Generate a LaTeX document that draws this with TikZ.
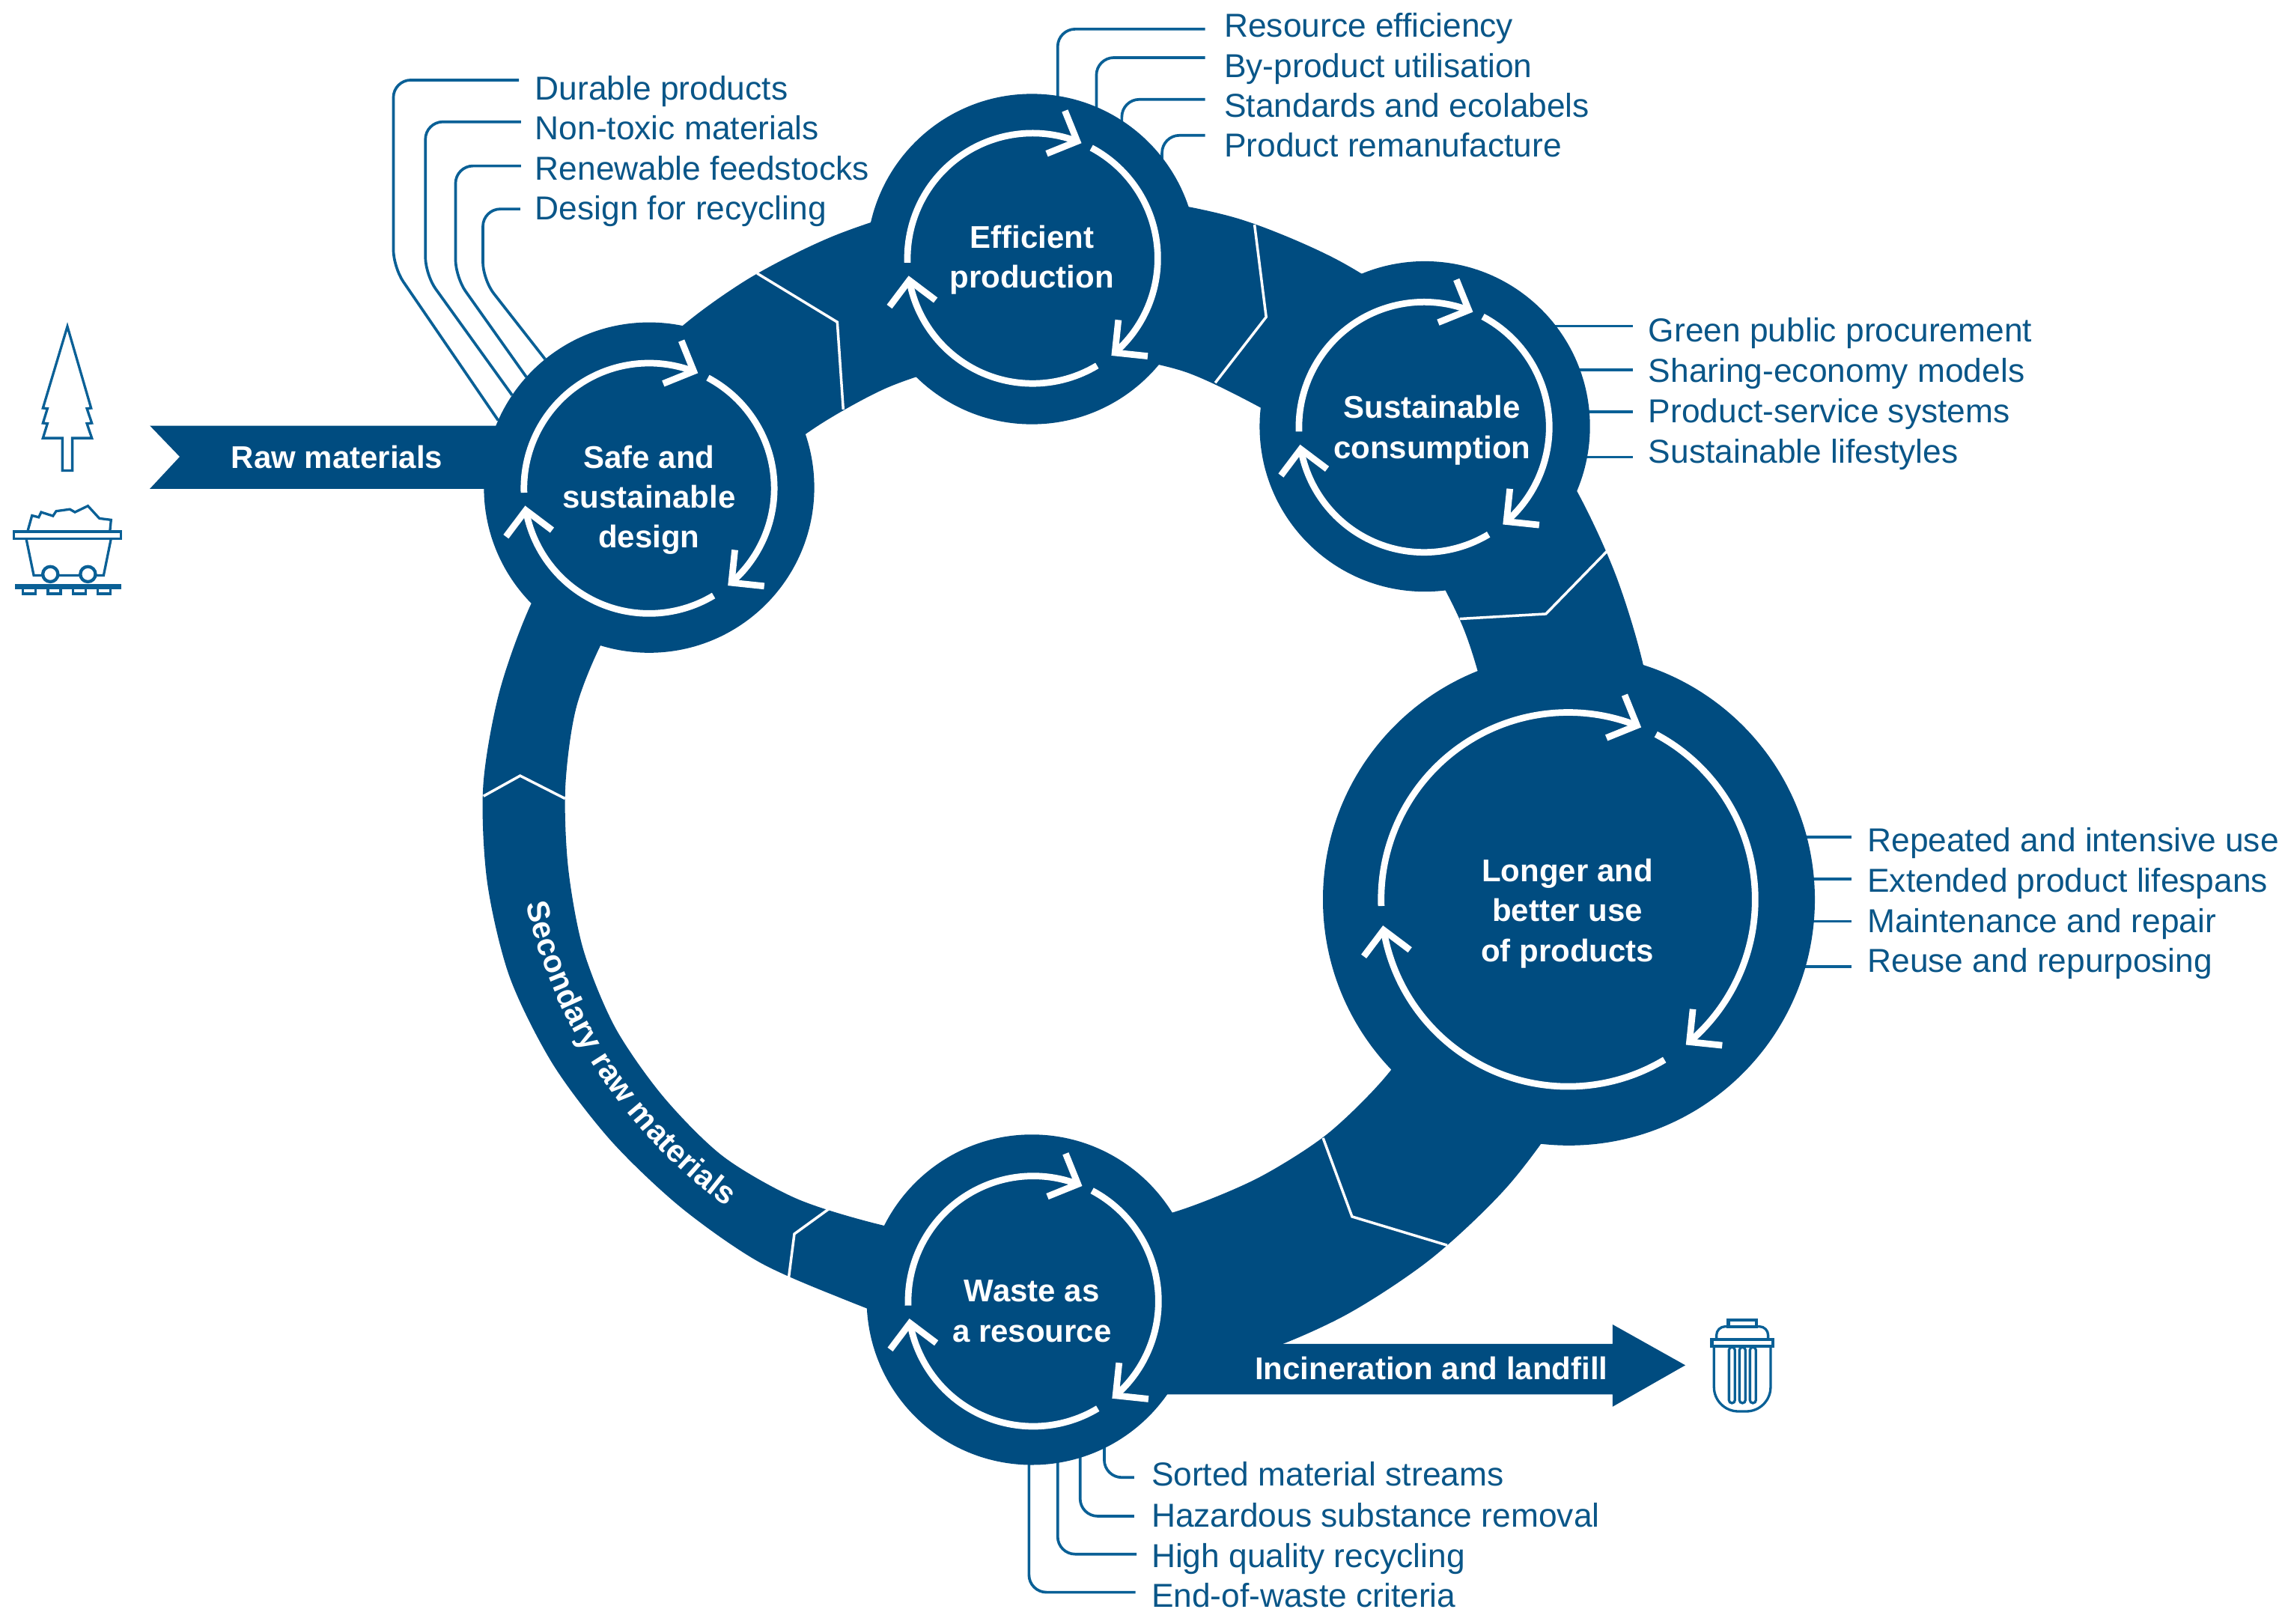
\documentclass[tikz,border=0pt]{standalone}
\usepackage{fontspec}
\setmainfont{Liberation Sans}
\usetikzlibrary{arrows.meta,bending,backgrounds,decorations.text}
\definecolor{deepblue}{HTML}{004C80}
\definecolor{labelblue}{HTML}{0A5688}
\definecolor{leaderblue}{HTML}{0A6096}
\tikzset{
  band/.style={fill=deepblue},
  hub/.style={circle,fill=deepblue,inner sep=0pt,outer sep=0pt},
  title/.style={text=white,align=center,inner sep=0pt,font=\bfseries\fontsize{21.6}{27.5}\selectfont},
  lab/.style={anchor=base west,inner sep=0pt,text=labelblue,font=\fontsize{22.8}{27.5}\selectfont},
  leader/.style={draw=leaderblue,line width=1.9pt,rounded corners=12pt},
  seam/.style={draw=white,line width=1.8pt,line join=miter},
  turn/.style={draw=white,line width=4.5pt,-{Straight Barb[length=16pt,width=32pt,line width=4.5pt,flex=0]}},
  icon/.style={draw=leaderblue,line width=1.7pt,line join=miter,fill=white}
}
\begin{document}
\begin{tikzpicture}[x=1pt,y=-1pt]
\useasboundingbox (0,0) rectangle (1568,1115.3);

% main loop, radii every 10 degrees round one centre
\begin{scope}[shift={(710,540)}]
  \fill[band,even odd rule]
    plot[smooth cycle] coordinates {(0:428) (10:428) (20:428) (30:427.5) (40:426.5) (50:424.5) (60:422) (70:418) (80:405) (90:392) (100:382) (110:376) (120:377.5) (130:377.5) (140:379) (150:381.5) (160:383) (170:381) (180:378) (190:372.5) (200:367) (210:361) (220:380) (230:396) (240:399.5) (250:402) (260:405) (270:407) (280:410) (290:414.5) (300:417.5) (310:420) (320:422) (330:424.8) (340:425.6) (350:427.5)}
    plot[smooth cycle] coordinates {(0:316) (10:315.5) (20:315) (30:314.7) (40:313.8) (50:313) (60:310.5) (70:308.5) (80:309) (90:312) (100:316) (110:319.7) (120:327) (130:332) (140:332) (150:331.8) (160:329) (170:324.5) (180:321.5) (190:318.5) (200:311) (210:300) (220:292) (230:288) (240:288.5) (250:291.5) (260:294) (270:297) (280:300) (290:303) (300:303) (310:307) (320:310) (330:312.5) (340:314.8) (350:316)};
  \path[decorate,decoration={text along path,text align=center,
      text={|\bfseries\fontsize{21.6}{26}\selectfont\color{white}|Secondary raw materials}}]
    (168:358) arc[start angle=168,end angle=125,radius=358];
\end{scope}

% in and out arrows
\fill[band] (103,292.5) -- (123.5,313.8) -- (103,335.8) -- (400,335.8) -- (400,292.5) -- cycle;
\fill[band] (790,958) -- (1108,958) -- (1108,966.5) -- (1158,938) -- (1108,910) -- (1108,923.4) -- (860,923.4) -- (790,900) -- cycle;

% seams across the band
\draw[seam] (520.2,187.8) -- (575.3,221.3) -- (579.4,281.3);
\draw[seam] (862,154.4) -- (870,217.8) -- (835,263);
\draw[seam] (1104,378.9) -- (1062.2,421.8) -- (1003,425.2);
\draw[seam] (909.1,781.9) -- (929,835.9) -- (994.4,855.6);
\draw[seam] (569.4,830.7) -- (545.8,847.8) -- (541.9,878.2);
\draw[seam] (332.2,547) -- (357.4,533) -- (388.3,548.7);

% hubs
\node[hub,minimum size=227pt] (safe) at (446,335) {};
\node[hub,minimum size=227pt] (eff) at (709,178) {};
\node[hub,minimum size=227pt] (cons) at (979,293) {};
\node[hub,minimum size=338pt] (use) at (1078,618) {};
\node[hub,minimum size=227pt] (waste) at (709,893) {};

% turning arrows inside the hubs
\foreach \cx/\cy/\rr in {446/335.5/86,709.5/177.5/86,978.5/293.5/86,1077.5/618/128.5,710/894/86}{
  \begin{scope}[shift={(\cx,\cy)}]
    \draw[turn] (178:\rr) arc[start angle=178,end angle=293,radius=\rr];
    \draw[turn] (298:\rr) arc[start angle=298,end angle=411,radius=\rr];
    \draw[turn] (59:\rr) arc[start angle=59,end angle=172,radius=\rr];
  \end{scope}
}

% hub titles
\node[title] (tsafe) at (446,343.5) {Safe and\\sustainable\\design};
\node[title] (teff) at (709,178.5) {Efficient\\production};
\node[title] (tcons) at (984,295.5) {Sustainable\\consumption};
\node[title] (tuse) at (1077,627.5) {Longer and\\better use\\of products};
\node[title] (twaste) at (709,901) {Waste as\\a resource};
\node[title,anchor=base] (traw) at (231.5,321.7) {Raw materials};
\node[title,anchor=base] (tout) at (983.5,948) {Incineration and landfill};

% labels
\node[lab] (s1) at (367.5,68.6) {Durable products};
\node[lab] (s2) at (367.5,96.1) {Non-toxic materials};
\node[lab] (s3) at (367.5,123.9) {Renewable feedstocks};
\node[lab] (s4) at (367.5,151.2) {Design for recycling};
\node[lab] (e1) at (841,25.7) {Resource efficiency};
\node[lab] (e2) at (841,53.2) {By-product utilisation};
\node[lab] (e3) at (841,80.6) {Standards and ecolabels};
\node[lab] (e4) at (841,107.8) {Product remanufacture};
\node[lab] (c1) at (1132.5,235) {Green public procurement};
\node[lab] (c2) at (1132.5,262.5) {Sharing-economy models};
\node[lab] (c3) at (1132.5,290.2) {Product-service systems};
\node[lab] (c4) at (1132.5,318) {Sustainable lifestyles};
\node[lab] (u1) at (1283,585) {Repeated and intensive use};
\node[lab] (u2) at (1283,612.8) {Extended product lifespans};
\node[lab] (u3) at (1283,640.5) {Maintenance and repair};
\node[lab] (u4) at (1283,668) {Reuse and repurposing};
\node[lab] (w1) at (791,1021.1) {Sorted material streams};
\node[lab] (w2) at (791,1049) {Hazardous substance removal};
\node[lab] (w3) at (791,1076.9) {High quality recycling};
\node[lab] (w4) at (791,1104.3) {End-of-waste criteria};

% leaders, under the hubs
\begin{scope}[on background layer]
  \draw[leader] ([shift={(-11,-13.6)}]s1.base west) -- (270.3,55) -- (270.3,183.6) -- (safe.156);
  \draw[leader] ([shift={(-9.5,-12.4)}]s2.base west) -- (292.3,83.7) -- (292.3,188.7) -- (safe.146.6);
  \draw[leader] ([shift={(-9.5,-9.9)}]s3.base west) -- (313,114) -- (313,190.4) -- (safe.138.7);
  \draw[leader] ([shift={(-10,-7.6)}]s4.base west) -- (331.8,143.6) -- (331.8,192.1) -- (safe.129.7);
  \draw[leader] ([shift={(-13,-5.7)}]e1.base west) -| ([yshift=-4pt]eff.81);
  \draw[leader] ([shift={(-13,-13.6)}]e2.base west) -| ([yshift=-4pt]eff.67.8);
  \draw[leader] ([shift={(-13,-12.3)}]e3.base west) -| ([yshift=-4pt]eff.57.5);
  \draw[leader] ([shift={(-13,-14.8)}]e4.base west) -| ([yshift=-4pt]eff.38.3);
  \foreach \lbl/\up in {c1/-11,c2/-8.5,c3/-7.2,c4/-4}{
    \coordinate (lp) at ([shift={(-10.5,\up)}]\lbl.base west);
    \draw[leader] (lp) -- (lp -| cons.center);
  }
  \foreach \lbl/\up in {u1/-10,u2/-8.8,u3/-7.5,u4/-4}{
    \coordinate (lp) at ([shift={(-11,\up)}]\lbl.base west);
    \draw[leader] (lp) -- (lp -| use.center);
  }
  \draw[leader] ([shift={(-11.7,-6)}]w1.base west) -| ([yshift=4pt]waste.-64.5);
  \draw[leader] ([shift={(-11.7,-7.3)}]w2.base west) -| ([yshift=4pt]waste.-73.8);
  \draw[leader] ([shift={(-10,-9.1)}]w3.base west) -| ([yshift=4pt]waste.-81.8);
  \draw[leader] ([shift={(-10.8,-10.3)}]w4.base west) -| ([yshift=4pt]waste.-91.4);
\end{scope}

% tree
\draw[icon] (46.3,224.3) -- (62.6,280.4) -- (59.7,280.7) -- (63.1,290.7) -- (59.7,291) -- (63.1,301) -- (49.7,301) -- (49.7,323.3) -- (42.9,323.3) -- (42.9,301) -- (29.5,301) -- (32.6,291) -- (29.5,290.7) -- (32.6,280.7) -- (29.5,280.4) -- cycle;

% mine cart
\draw[icon] (18.9,365.3) -- (22,354.2) -- (26.6,355.4) -- (28.3,351.9) -- (36.4,354.5) -- (38.6,351.2) -- (48,349.9) -- (51.5,351.9) -- (60.4,347.6) -- (68.3,356.2) -- (76.3,357.2) -- (75.5,365.3);
\draw[icon] (18,370.1) -- (23.2,395.3) -- (71.2,395.3) -- (76.3,370.1);
\draw[icon] (9.4,365.3) rectangle (83.2,370.1);
\draw[icon,line width=2.2pt] (34.6,394.5) circle (5.2);
\draw[icon,line width=2.2pt] (60.4,394.5) circle (5.2);
\foreach \sx in {15.8,32.9,50.1,67.2}
  \draw[icon] (\sx,403) rectangle ++(8.8,4.9);
\draw[draw=leaderblue,line width=3.4pt] (10.3,403) -- (83.2,403);

% bin
\draw[icon] (1177.7,925.1) -- (1177.7,953) arc[start angle=180,end angle=90,radius=16.7] -- (1199.9,969.7) arc[start angle=90,end angle=0,radius=16.7] -- (1216.6,925.1);
\draw[icon,rounded corners=6pt] (1179.4,920.3) -- (1179.4,911.4) -- (1214.9,911.4) -- (1214.9,920.3);
\draw[icon,line width=2.2pt] (1187.5,906.8) rectangle (1206.8,911.4);
\draw[icon,line width=2.2pt] (1176.3,920.3) rectangle (1218.3,925.1);
\foreach \bx in {1188,1195.2,1202.4}
  \draw[icon,rounded corners=2pt] (\bx,925.6) rectangle ++(4.1,38.4);
\end{tikzpicture}
\end{document}
